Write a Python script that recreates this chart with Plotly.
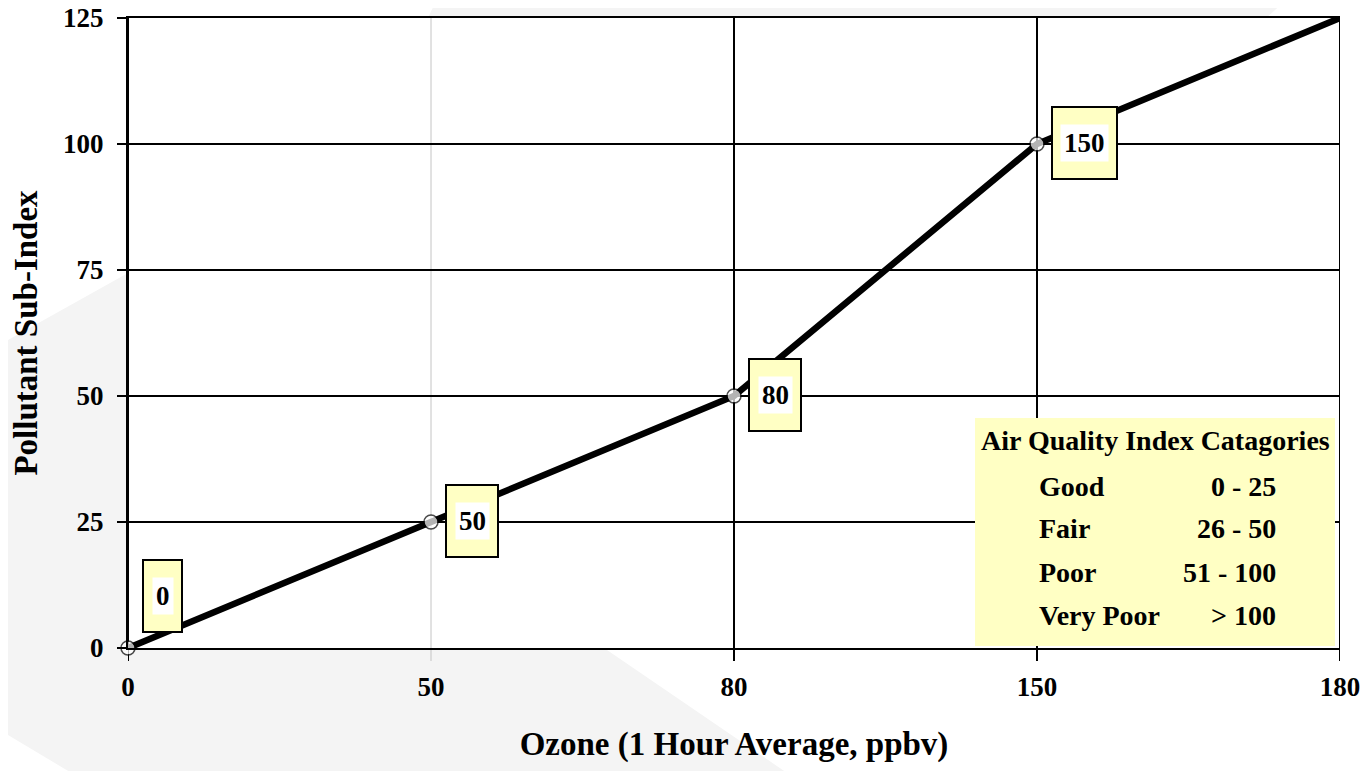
import plotly.graph_objects as go

# ---- data ----
ozone_labels = ["0", "50", "80", "150", "180"]   # x categories (ppbv)
sub_index = [0, 25, 50, 100, 125]                # pollutant sub-index
point_labels = ["0", "50", "80", "150"]          # boxed labels on break points
y_ticks = [0, 25, 50, 75, 100, 125]
aqi_names = ["Good", "Fair", "Poor", "Very Poor"]
aqi_ranges = ["0 - 25", "26 - 50", "51 - 100", "> 100"]
aqi_title = "Air Quality Index Catagories"

# ---- layout geometry (screen pixels; page body has an 8px margin) ----
W, H = 1370, 771
OFF = 8
PL, PT, PR, PB = 128, 18, 1340, 648          # target plot box on screen
ML, MT = PL - OFF, PT - OFF
MR = W - (PR - OFF)
MB = H - (PB - OFF)
PW, PH = PR - PL, PB - PT
FONT = "Liberation Serif"
YELLOW = "#ffffc4"


def px(x):
    return (x - PL) / PW


def py(y):
    return (PB - y) / PH


xi = list(range(len(ozone_labels)))

fig = go.Figure()
fig.add_trace(go.Scatter(
    x=xi, y=sub_index, mode="lines+markers",
    line=dict(color="black", width=6.5),
    marker=dict(size=[14] * len(point_labels) + [0] * (len(xi) - len(point_labels)),
                color="white", line=dict(color="black", width=1.5)),
    cliponaxis=False, showlegend=False, hoverinfo="skip",
))

shapes = []
# light grey background polygon (decorative)
poly = [(8, 340), (128, 273), (428, 18), (442, -12), (1300, -12), (1266, 18),
        (1000, 400), (607, 650), (812, 790), (100, 790), (8, 735)]
path = "M " + " L ".join(f"{px(a):.5f},{py(b):.5f}" for a, b in poly) + " Z"
shapes.append(dict(type="path", xref="paper", yref="paper", path=path,
                   fillcolor="#f4f4f4", line=dict(width=0), layer="below"))
# white plotting area
shapes.append(dict(type="rect", xref="paper", yref="paper", x0=0, x1=1, y0=0, y1=1,
                   fillcolor="white", line=dict(width=0), layer="below"))
# vertical grid lines (extend below axis as ticks)
for i in xi:
    col = "#c4c4c4" if ozone_labels[i] == "50" else "black"
    w = 1 if ozone_labels[i] == "50" else 2
    shapes.append(dict(type="line", xref="x", yref="paper", x0=i, x1=i,
                       y0=py(661), y1=1, line=dict(color=col, width=w), layer="between"))
# AQI category box
shapes.append(dict(type="rect", xref="paper", yref="paper",
                   x0=px(975), x1=px(1335), y0=py(646), y1=py(418),
                   fillcolor=YELLOW, line=dict(width=0), layer="above"))

annotations = []
lab_font = dict(family=FONT, size=27, color="black", weight="bold")
for i, lab in enumerate(point_labels):
    ysh = 52 if sub_index[i] == 0 else 1
    wbox = 13 * len(lab) + 24
    annotations.append(dict(x=xi[i], y=sub_index[i], xref="x", yref="y", text=lab,
                            showarrow=False, xanchor="left", xshift=14, yshift=ysh,
                            width=wbox, height=70, bgcolor=YELLOW, bordercolor="black",
                            borderwidth=2, borderpad=0, font=lab_font))
    annotations.append(dict(x=xi[i], y=sub_index[i], xref="x", yref="y", text=lab,
                            showarrow=False, xanchor="center",
                            xshift=14 + 2 + wbox / 2, yshift=ysh,
                            bgcolor="white", borderpad=3, font=lab_font))

leg_font = dict(family=FONT, size=28, color="black", weight="bold")
annotations.append(dict(x=px(1155), y=py(440), xref="paper", yref="paper", text=aqi_title,
                        showarrow=False, xanchor="center", yanchor="middle", font=leg_font))
row_y = [486, 528, 572, 615]
for name, rng, yy in zip(aqi_names, aqi_ranges, row_y):
    annotations.append(dict(x=px(1037), y=py(yy), xref="paper", yref="paper", text=name,
                            showarrow=False, xanchor="left", yanchor="middle", font=leg_font))
    annotations.append(dict(x=px(1278), y=py(yy), xref="paper", yref="paper", text=rng,
                            showarrow=False, xanchor="right", yanchor="middle", font=leg_font))

tick_font = dict(family=FONT, size=27, color="black", weight="bold")
title_font = dict(family=FONT, size=33, color="black", weight="bold")

fig.update_layout(
    width=W, height=H,
    margin=dict(l=ML, r=MR, t=MT, b=MB, pad=0),
    paper_bgcolor="white", plot_bgcolor="rgba(0,0,0,0)",
    shapes=shapes, annotations=annotations,
    xaxis=dict(range=[0, len(xi) - 1], tickmode="array", tickvals=xi, ticktext=ozone_labels,
               showgrid=False, zeroline=False, showline=True, mirror=True,
               linecolor="black", linewidth=2, ticks="",
               tickfont=tick_font, ticklabelstandoff=14, automargin=False,
               ticklabeloverflow="allow",
               title=dict(text="Ozone (1 Hour Average, ppbv)", font=title_font, standoff=30)),
    yaxis=dict(range=[0, 125], tickmode="array", tickvals=y_ticks,
               showgrid=True, gridcolor="black", gridwidth=2, zeroline=False,
               showline=True, linecolor="black", linewidth=2,
               ticks="outside", ticklen=9, tickwidth=2, tickcolor="black",
               tickfont=tick_font, ticklabelstandoff=8, automargin=False,
               ticklabeloverflow="allow",
               title=dict(text="Pollutant Sub-Index", font=title_font, standoff=17)),
)

fig.write_html("out.html")
